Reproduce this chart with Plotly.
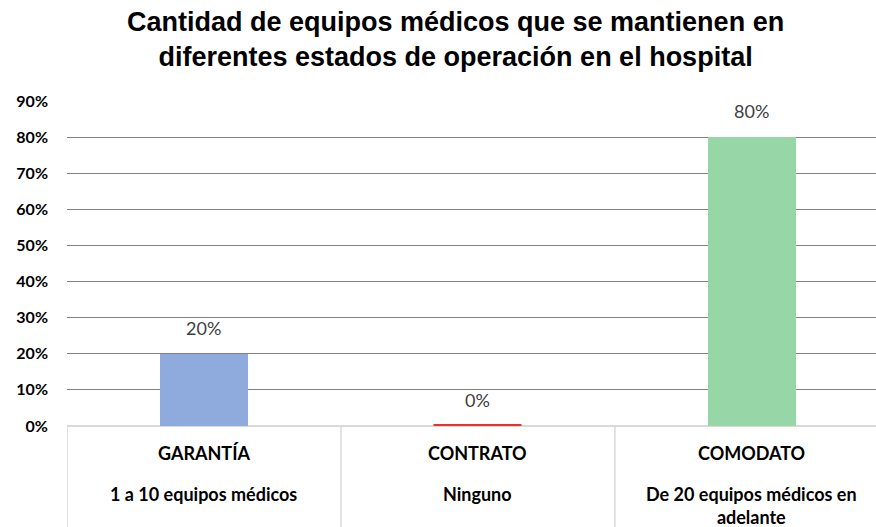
import plotly.graph_objects as go

# --- data ---
categories = ["GARANTÍA", "CONTRATO", "COMODATO"]
subtitles = ["1 a 10 equipos médicos", "Ninguno", "De 20 equipos médicos en<br>adelante"]
values = [0.20, 0.0, 0.80]
bar_colors = ["#8FAADC", "#EE2E2E", "#97D6A6"]
y_ticks = [0, 0.1, 0.2, 0.3, 0.4, 0.5, 0.6, 0.7, 0.8, 0.9]
title_text = "<b>Cantidad de equipos médicos que se mantienen en<br>diferentes estados de operación en el hospital</b>"

x_pos = list(range(len(categories)))
label_font = dict(family="Lato, Calibri, sans-serif", size=18, color="#000000")

fig = go.Figure()
fig.add_trace(go.Bar(
    x=x_pos, y=values,
    width=0.32,
    marker=dict(color=bar_colors, line=dict(color=bar_colors, width=[0, 3, 0])),
    hoverinfo="skip",
))

# data labels above each bar
for i, v in zip(x_pos, values):
    fig.add_annotation(
        x=i, y=v, xref="x", yref="y",
        text=f"{v*100:.0f}%", showarrow=False,
        yanchor="bottom", yshift=13,
        font=dict(family="Lato, Calibri, sans-serif", size=18, color="#404040"),
    )

# multi-level category labels below the axis
for i, (cat, sub) in enumerate(zip(categories, subtitles)):
    fig.add_annotation(
        x=i, y=0, xref="x", yref="paper", yanchor="middle", yshift=-27,
        text=f"<b>{cat}</b>", showarrow=False, font=label_font,
    )
    fig.add_annotation(
        x=i, y=0, xref="x", yref="paper", yanchor="top", yshift=-55,
        text=f"<b>{sub}</b>", showarrow=False, font=label_font,
    )

# separators of the category table
for sep in [-0.5, 0.5, 1.5]:
    fig.add_shape(type="line", xref="x", yref="paper",
                  x0=sep, x1=sep, y0=0, y1=-0.32,
                  line=dict(color="#D9D9D9", width=1.5))

# chart title (as annotation for exact placement)
fig.add_annotation(
    x=0.48, y=1, xref="paper", yref="paper", xanchor="center", yanchor="bottom",
    yshift=27, text=title_text, showarrow=False,
    font=dict(family="Liberation Sans, Arial, sans-serif", size=27, color="#000000"),
)

fig.update_layout(
    width=876, height=527,
    margin=dict(l=67, r=0, t=101, b=101),
    paper_bgcolor="white", plot_bgcolor="white",
    showlegend=False,
    bargap=0,
)

fig.update_xaxes(
    range=[-0.5, 2.453], showticklabels=False, showgrid=False, zeroline=False,
    showline=False,
)
fig.update_yaxes(
    range=[0, 0.9], tickvals=y_ticks, tickformat=".0%",
    showgrid=True, gridcolor="#808080", gridwidth=1.3,
    zeroline=True, zerolinecolor="#D9D9D9", zerolinewidth=1.5,
    ticks="", ticklabelstandoff=18, automargin=False,
    tickfont=dict(family="Lato, Calibri, sans-serif", size=16, color="#000000", weight="bold"),
)

# remove default page margin so the figure sits at the window's corner
fig.write_html("out.html", config={"displayModeBar": False},
               post_script="document.body.style.margin='0';")
